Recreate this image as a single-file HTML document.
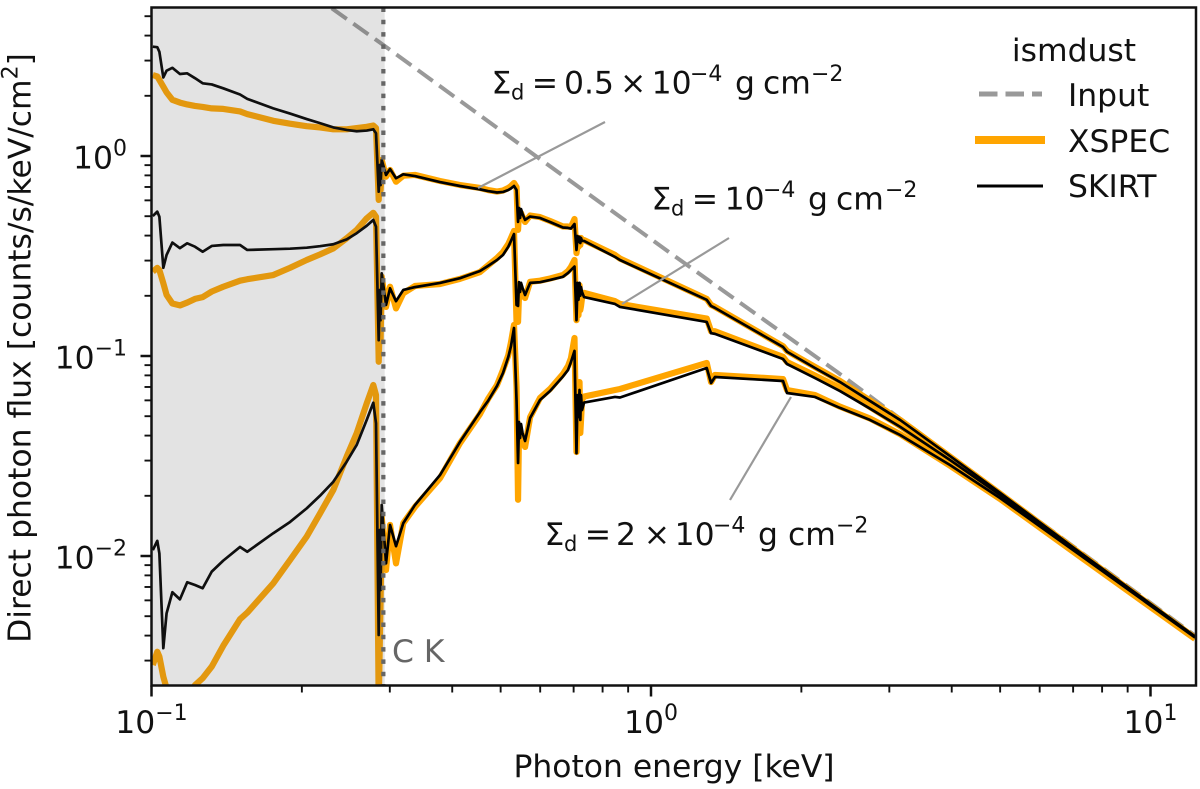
<!DOCTYPE html>
<html>
<head>
<meta charset="utf-8">
<style>
html,body{margin:0;padding:0;background:#fff;}
svg{display:block;}
text{font-family:"DejaVu Sans","Liberation Sans",sans-serif;font-size:31.4px;fill:#111;}
</style>
</head>
<body>
<svg id="chart" xmlns="http://www.w3.org/2000/svg" width="1200" height="789" viewBox="0 0 1200 789">
  <defs><clipPath id="plot-clip"><rect x="151.5" y="7.5" width="1044.5" height="678"/></clipPath></defs>
  <g id="series-layer" clip-path="url(#plot-clip)"></g>
  <g id="axes-layer"></g>

  <g stroke="#999" stroke-width="2.2" fill="none">
    <line x1="478" y1="188" x2="605" y2="122"/>
    <line x1="622" y1="304" x2="729" y2="238"/>
    <line x1="791" y1="397" x2="730" y2="500"/>
  </g>

  <text y="93.5"><tspan x="491.5">Σ</tspan><tspan x="511" font-size="21" dy="6">d</tspan><tspan x="531.7" dy="-6">=</tspan><tspan x="564">0.5</tspan><tspan x="620">×</tspan><tspan x="651.6">10</tspan><tspan x="690" font-size="22" dy="-12.5">−4</tspan><tspan x="735" dy="12.5">g</tspan><tspan x="763">cm</tspan><tspan x="811" font-size="22" dy="-12.5">−2</tspan></text>
  <text y="209.5"><tspan x="651.5">Σ</tspan><tspan x="671" font-size="21" dy="6">d</tspan><tspan x="691.7" dy="-6">=</tspan><tspan x="724.6">10</tspan><tspan x="763" font-size="22" dy="-12.5">−4</tspan><tspan x="808" dy="12.5">g</tspan><tspan x="836">cm</tspan><tspan x="885" font-size="22" dy="-12.5">−2</tspan></text>
  <text y="545"><tspan x="544.5">Σ</tspan><tspan x="564" font-size="21" dy="6">d</tspan><tspan x="584.7" dy="-6">=</tspan><tspan x="616">2</tspan><tspan x="643.7">×</tspan><tspan x="674.6">10</tspan><tspan x="713" font-size="22" dy="-12.5">−4</tspan><tspan x="758" dy="12.5">g</tspan><tspan x="788">cm</tspan><tspan x="836" font-size="22" dy="-12.5">−2</tspan></text>

  <text x="392" y="662" style="fill:#666">C K</text>

  <text x="674" y="777" text-anchor="middle">Photon energy [keV]</text>
  <text transform="translate(30.5,348) rotate(-90)" text-anchor="middle">Direct photon flux [counts/s/keV/cm<tspan font-size="22" dy="-13">2</tspan><tspan dy="13">]</tspan></text>

  <g>
    <text x="1074" y="61" text-anchor="middle">ismdust</text>
    <line x1="979" y1="94" x2="1042" y2="94" stroke="#999" stroke-width="5" stroke-dasharray="18.5 8"/>
    <text x="1068" y="106">Input</text>
    <line x1="975" y1="140" x2="1045" y2="140" stroke="#ffa500" stroke-width="8"/>
    <text x="1068" y="152">XSPEC</text>
    <line x1="977" y1="186" x2="1043" y2="186" stroke="#000" stroke-width="3"/>
    <text x="1068" y="197">SKIRT</text>
  </g>
</svg>
<script>
// --- Data (energies in keV, fluxes in counts/s/keV/cm2) ---
const inputEnergy = [0.2295, 0.2912, 0.5906, 1.107, 2.354, 3.67, 4.997, 12.28];
const inputFlux = [5.48, 3.59, 0.992, 0.320, 0.0835, 0.0367, 0.0207, 0.00400];

const energy = [
  0.1006,0.1027,0.1037,0.1056,0.1072,0.1101,0.1140,0.1179,0.1222,0.1266,0.1320,0.1392,0.1504,0.1555,0.1753,0.1894,0.2045,0.2174,0.2312,0.2459,0.2575,0.2697,0.2780,0.2815,0.2850,0.2865,0.2875,0.2890,0.2948,0.3003,0.3087,0.3192,
  0.3369,0.3781,0.4146,0.4547,0.4718,0.4917,0.5054,0.5180,0.5244,0.5318,0.5380,0.5418,0.5442,0.5468,0.5493,0.5532,0.5596,0.5728,0.5996,0.6279,0.6664,0.6821,0.6915,0.7028,0.7093,0.7127,0.7159,0.7193,0.7219,0.7243,0.7276,0.7344,0.8471,0.8668,1.293,1.319,1.343,1.838,1.872,2.130,2.390,2.744,3.152,3.968,4.997,7.118,12.28
];
const skirtLow = [
  3.52,3.50,3.32,2.47,2.67,2.76,2.57,2.59,2.45,2.31,2.28,2.18,2.03,1.93,1.73,1.63,1.53,1.46,1.39,1.35,1.33,1.34,1.36,1.30,0.663,0.902,0.716,0.955,0.804,0.861,0.774,0.810,
  0.794,0.741,0.708,0.681,0.668,0.657,0.661,0.676,0.688,0.708,0.676,0.468,0.550,0.490,0.543,0.513,0.479,0.498,0.490,0.468,0.439,0.437,0.434,0.457,0.339,0.398,0.372,0.394,0.367,0.389,0.376,0.376,0.313,0.302,0.191,0.178,0.174,0.111,0.105,0.0871,0.0741,0.0596,0.0479,0.0316,0.0207,0.0107,0.00396
];
const xspecLow = [
  2.54,2.50,2.40,2.22,2.08,1.91,1.85,1.81,1.78,1.76,1.73,1.72,1.67,1.62,1.50,1.45,1.41,1.39,1.36,1.36,1.38,1.40,1.42,1.38,0.603,0.851,0.676,0.955,0.788,0.851,0.744,0.797,
  0.804,0.750,0.716,0.692,0.676,0.664,0.672,0.692,0.708,0.733,0.700,0.427,0.525,0.513,0.519,0.495,0.468,0.504,0.495,0.473,0.444,0.444,0.442,0.484,0.327,0.359,0.351,0.389,0.359,0.389,0.380,0.380,0.320,0.307,0.193,0.180,0.176,0.112,0.106,0.0881,0.0750,0.0599,0.0479,0.0314,0.0205,0.0106,0.00389
];
const skirtMid = [
  0.501,0.527,0.497,0.276,0.320,0.369,0.346,0.366,0.352,0.332,0.355,0.359,0.359,0.339,0.342,0.344,0.348,0.354,0.362,0.383,0.411,0.448,0.479,0.443,0.120,0.214,0.151,0.259,0.180,0.218,0.188,0.214,
  0.221,0.232,0.245,0.266,0.282,0.302,0.320,0.352,0.376,0.407,0.180,0.178,0.234,0.209,0.232,0.219,0.202,0.232,0.234,0.240,0.249,0.260,0.269,0.280,0.151,0.232,0.191,0.232,0.200,0.221,0.209,0.197,0.182,0.176,0.148,0.130,0.129,0.0966,0.0912,0.0776,0.0668,0.0546,0.0443,0.0302,0.0202,0.0106,0.00394
];
const xspecMid = [
  0.264,0.276,0.269,0.231,0.202,0.183,0.179,0.185,0.193,0.197,0.210,0.222,0.238,0.242,0.254,0.276,0.302,0.322,0.345,0.388,0.427,0.488,0.520,0.497,0.0936,0.151,0.120,0.249,0.176,0.222,0.173,0.206,
  0.224,0.229,0.243,0.263,0.284,0.309,0.331,0.363,0.389,0.422,0.148,0.148,0.202,0.214,0.214,0.202,0.195,0.235,0.238,0.244,0.254,0.266,0.279,0.302,0.151,0.191,0.160,0.226,0.170,0.178,0.195,0.207,0.188,0.182,0.154,0.133,0.133,0.0989,0.0933,0.0799,0.0692,0.0556,0.0447,0.0300,0.0201,0.0105,0.00389
];
const skirtHigh = [
  0.0107,0.0119,0.0103,0.00346,0.00517,0.00659,0.00607,0.00739,0.00716,0.00690,0.00835,0.00948,0.0111,0.0105,0.0130,0.0148,0.0173,0.0200,0.0235,0.0296,0.0359,0.0479,0.0584,0.0461,0.00403,0.0135,0.00676,0.0180,0.00919,0.0143,0.0112,0.0146,
  0.0180,0.0254,0.0372,0.0525,0.0596,0.0708,0.0822,0.0989,0.112,0.138,0.0600,0.0292,0.0468,0.0389,0.0457,0.0412,0.0376,0.0490,0.0603,0.0668,0.0790,0.0851,0.0933,0.106,0.0327,0.0638,0.0495,0.0676,0.0479,0.0638,0.0537,0.0585,0.0624,0.0620,0.0871,0.0733,0.0785,0.0750,0.0653,0.0624,0.0550,0.0479,0.0403,0.0285,0.0195,0.0104,0.00391
];
const xspecHigh = [
  0.00285,0.00332,0.00314,0.00249,0.00218,0.00176,0.00164,0.00198,0.00226,0.00245,0.00280,0.00356,0.00483,0.00521,0.00730,0.00955,0.0125,0.0163,0.0214,0.0314,0.0411,0.0580,0.0716,0.0638,0.00176,0.00380,0.00603,0.0157,0.00851,0.0143,0.00919,0.0146,
  0.0176,0.0245,0.0367,0.0513,0.0610,0.0716,0.0851,0.101,0.117,0.143,0.0700,0.0191,0.0427,0.0380,0.0403,0.0380,0.0351,0.0495,0.0617,0.0684,0.0813,0.0891,0.0977,0.123,0.0331,0.0537,0.0412,0.0741,0.0412,0.0479,0.0603,0.0627,0.0676,0.0684,0.0923,0.0741,0.0804,0.0767,0.0676,0.0638,0.0558,0.0487,0.0407,0.0283,0.0193,0.0102,0.00385
];
const edgeEnergy = 0.2912;
const spanEnd = 0.293;
const xTickExponents = [-1, 0, 1];
const yTickExponents = [-2, -1, 0];
const xDecades = [-1, 0, 1];
const yDecades = [-3, -2, -1, 0];
const minorMultipliers = [2, 3, 4, 5, 6, 7, 8, 9];

// --- Axis functions ---
const LEFT = 151.5, RIGHT = 1196, TOP = 7.5, BOTTOM = 685.5;
function xPos(e) { return 151.5 + 499.5 * (Math.log10(e) + 1); }
function yPos(f) { return 156 - 200 * Math.log10(f); }

const NS = 'http://www.w3.org/2000/svg';
const seriesLayer = document.getElementById('series-layer');
const axesLayer = document.getElementById('axes-layer');

function pathFrom(xs, ys) {
  return xs.map((e, i) => (i ? 'L' : 'M') + xPos(e).toFixed(2) + ' ' + yPos(ys[i]).toFixed(2)).join(' ');
}

function drawLine(xs, ys, color, width, dash, name) {
  const el = document.createElementNS(NS, 'path');
  el.setAttribute('d', pathFrom(xs, ys));
  el.setAttribute('fill', 'none');
  el.setAttribute('stroke', color);
  el.setAttribute('stroke-width', width);
  el.setAttribute('stroke-linejoin', 'round');
  if (dash) el.setAttribute('stroke-dasharray', dash);
  
  
  seriesLayer.appendChild(el);
}

drawLine(inputEnergy, inputFlux, '#999', 4, '18.5 8', 'input-line');
drawLine(energy, xspecLow, '#ffa500', 6.2, null, 'xspec-line-sigma-0-5');
drawLine(energy, xspecMid, '#ffa500', 6.2, null, 'xspec-line-sigma-1');
drawLine(energy, xspecHigh, '#ffa500', 6.2, null, 'xspec-line-sigma-2');
drawLine(energy, skirtLow, '#000', 2.7, null, 'skirt-line-sigma-0-5');
drawLine(energy, skirtMid, '#000', 2.7, null, 'skirt-line-sigma-1');
drawLine(energy, skirtHigh, '#000', 2.7, null, 'skirt-line-sigma-2');

// Shaded band drawn over the lines (semi-transparent)
const band = document.createElementNS(NS, 'rect');
band.setAttribute('x', LEFT);
band.setAttribute('y', TOP);
band.setAttribute('width', xPos(spanEnd) - LEFT);
band.setAttribute('height', BOTTOM - TOP);
band.setAttribute('fill', 'rgba(88,88,88,0.17)');


seriesLayer.appendChild(band);

const edgeLine = document.createElementNS(NS, 'line');
edgeLine.setAttribute('x1', xPos(edgeEnergy));
edgeLine.setAttribute('x2', xPos(edgeEnergy));
edgeLine.setAttribute('y1', TOP);
edgeLine.setAttribute('y2', BOTTOM);
edgeLine.setAttribute('stroke', '#666');
edgeLine.setAttribute('stroke-width', '4.2');
edgeLine.setAttribute('stroke-dasharray', '4.5 7.8');


seriesLayer.appendChild(edgeLine);

function tickLine(x1, y1, x2, y2, w, name) {
  const el = document.createElementNS(NS, 'line');
  el.setAttribute('x1', x1);
  el.setAttribute('y1', y1);
  el.setAttribute('x2', x2);
  el.setAttribute('y2', y2);
  el.setAttribute('stroke', '#111');
  el.setAttribute('stroke-width', w);
  
  
  axesLayer.appendChild(el);
}

function powerLabel(x, y, exponent, anchor, name) {
  const t = document.createElementNS(NS, 'text');
  t.setAttribute('x', x);
  t.setAttribute('y', y);
  t.setAttribute('text-anchor', anchor);
  
  
  t.appendChild(document.createTextNode('10'));
  const s = document.createElementNS(NS, 'tspan');
  s.setAttribute('font-size', '22');
  s.setAttribute('dy', '-13');
  s.textContent = String(exponent).replace('-', '\u2212');
  t.appendChild(s);
  axesLayer.appendChild(t);
}

// Minor ticks
xDecades.forEach(d => minorMultipliers.forEach(m => {
  const v = m * Math.pow(10, d);
  const px = xPos(v);
  if (px > LEFT && px < RIGHT) tickLine(px, BOTTOM, px, BOTTOM + 7, 1.9, 'x-minor-tick');
}));
yDecades.forEach(d => minorMultipliers.forEach(m => {
  const v = m * Math.pow(10, d);
  const py = yPos(v);
  if (py > TOP && py < BOTTOM) tickLine(LEFT - 7, py, LEFT, py, 1.9, 'y-minor-tick');
}));

// Major ticks and labels
xTickExponents.forEach(ex => {
  const px = xPos(Math.pow(10, ex));
  tickLine(px, BOTTOM, px, BOTTOM + 11, 2.5, 'x-major-tick');
  powerLabel(px, 733, ex, 'middle', 'x-tick-label');
});
yTickExponents.forEach(ex => {
  const py = yPos(Math.pow(10, ex));
  tickLine(LEFT - 11, py, LEFT, py, 2.5, 'y-major-tick');
  powerLabel(LEFT - 24.5, py + 12.5, ex, 'end', 'y-tick-label');
});

// Frame
const frame = document.createElementNS(NS, 'rect');
frame.setAttribute('x', LEFT);
frame.setAttribute('y', TOP);
frame.setAttribute('width', RIGHT - LEFT);
frame.setAttribute('height', BOTTOM - TOP);
frame.setAttribute('fill', 'none');
frame.setAttribute('stroke', '#111');
frame.setAttribute('stroke-width', '2.5');


axesLayer.appendChild(frame);
</script>
</body>
</html>
